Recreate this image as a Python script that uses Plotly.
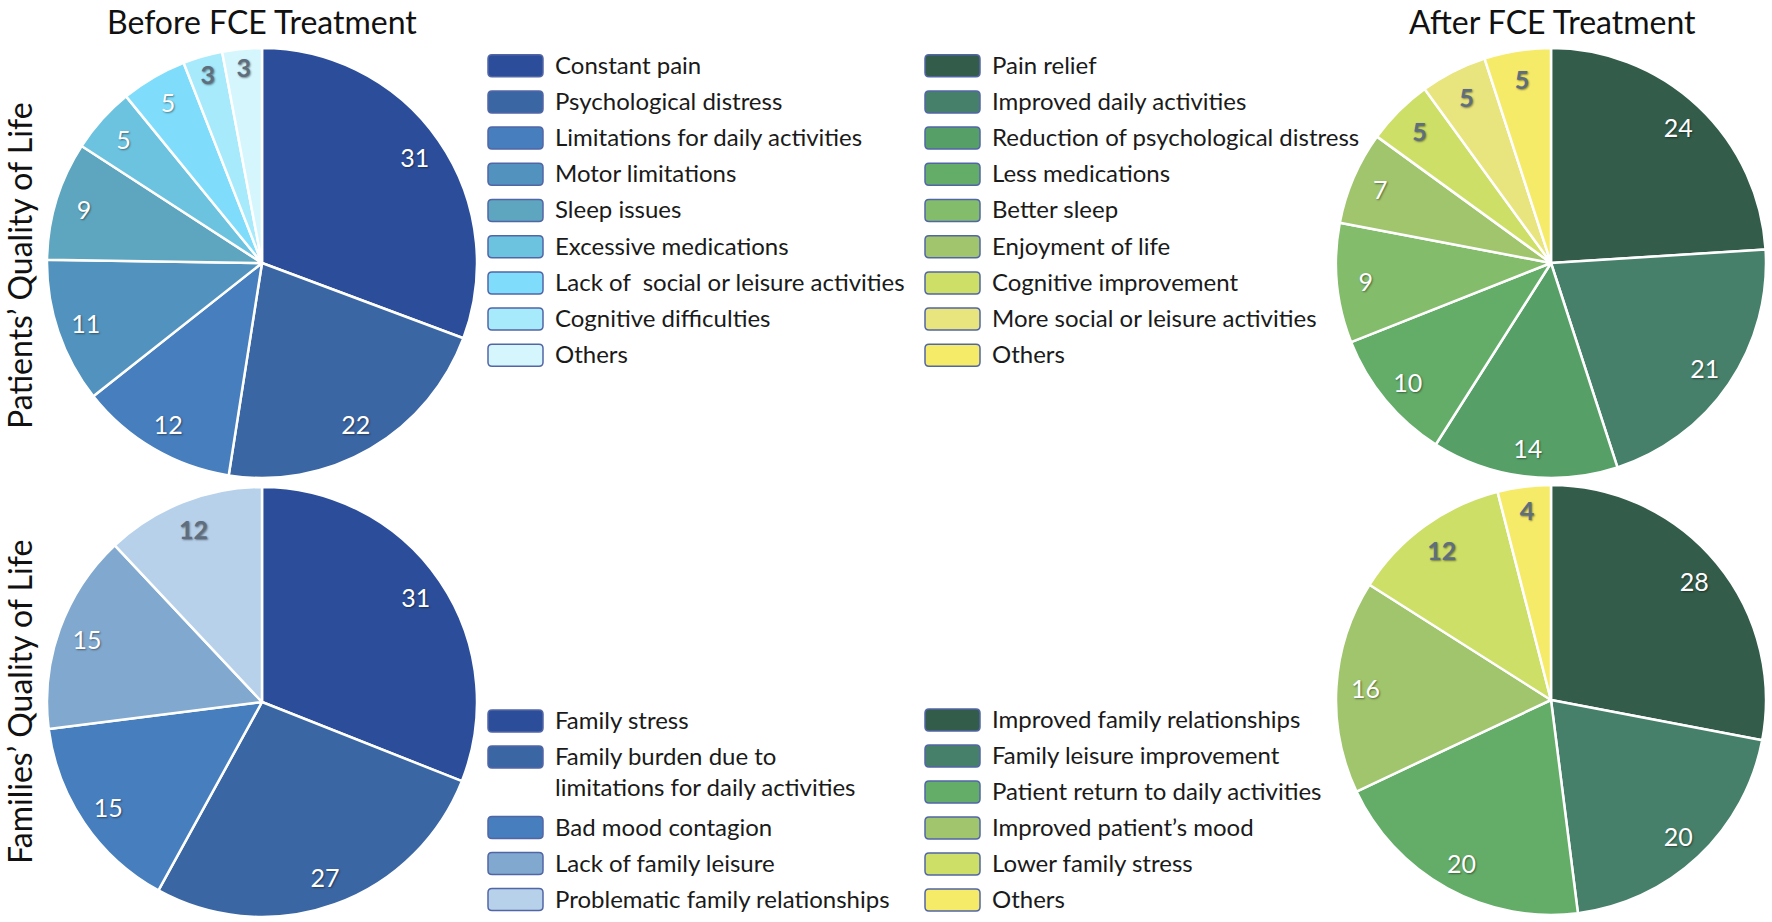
import plotly.graph_objects as go

W, H = 1772, 922
FONT = "Lato"

# ---------------- data ----------------
pat_before_labels = ["Constant pain", "Psychological distress", "Limitations for daily activities",
                     "Motor limitations", "Sleep issues", "Excessive medications",
                     "Lack of  social or leisure activities", "Cognitive difficulties", "Others"]
pat_before_values = [31, 22, 12, 11, 9, 5, 5, 3, 3]
pat_before_colors = ["#2C4E9A", "#3B66A4", "#467EBE", "#5193BE", "#5EA6BF", "#6CC3E0",
                     "#7FDDFB", "#A6EAFB", "#D5F6FD"]

pat_after_labels = ["Pain relief", "Improved daily activities", "Reduction of psychological distress",
                    "Less medications", "Better sleep", "Enjoyment of life",
                    "Cognitive improvement", "More social or leisure activities", "Others"]
pat_after_values = [24, 21, 14, 10, 9, 7, 5, 5, 5]
pat_after_colors = ["#335C4A", "#46806A", "#56A068", "#64AD69", "#83BC6B", "#A0C56D",
                    "#CEDF68", "#E8E47E", "#F6EB69"]

fam_before_labels = ["Family stress", "Family burden due to<br>limitations for daily activities",
                     "Bad mood contagion", "Lack of family leisure", "Problematic family relationships"]
fam_before_values = [31, 27, 15, 15, 12]
fam_before_colors = ["#2C4E9A", "#3B66A4", "#467EBE", "#81A8CE", "#B7D1EB"]

fam_after_labels = ["Improved family relationships", "Family leisure improvement",
                    "Patient return to daily activities", "Improved patient’s mood",
                    "Lower family stress", "Others"]
fam_after_values = [28, 20, 20, 16, 12, 4]
fam_after_colors = ["#335C4A", "#46806A", "#64AD69", "#A0C56D", "#CEDF68", "#F6EB69"]

# number of light slices (at the end) whose value label is grey
pat_before_light = 2
pat_after_light = 3
fam_before_light = 1
fam_after_light = 2

WHITE = "#FFFFFF"
GREY = "#5E6E7E"

# ---------------- layout helpers (pixels -> paper) ----------------
def px(x):
    return x / W

def py(y):
    return 1 - y / H

R = 215
pies = [
    (pat_before_labels, pat_before_values, pat_before_colors, pat_before_light, 262, 263),
    (pat_after_labels, pat_after_values, pat_after_colors, pat_after_light, 1551, 263),
    (fam_before_labels, fam_before_values, fam_before_colors, fam_before_light, 262, 702),
    (fam_after_labels, fam_after_values, fam_after_colors, fam_after_light, 1551, 700),
]

fig = go.Figure()
for labels, values, colors, nlight, cx, cy in pies:
    dom = dict(x=[px(cx - R), px(cx + R)], y=[py(cy + R), py(cy - R)])
    n = len(values)
    tcolors = [WHITE] * (n - nlight) + [GREY] * nlight
    tweights = ["normal"] * (n - nlight) + ["bold"] * nlight
    fig.add_trace(go.Pie(
        labels=labels, values=values, domain=dom, sort=False, direction="clockwise",
        rotation=0, marker=dict(colors=colors, line=dict(color="white", width=2.5)),
        textinfo="none", showlegend=False, hoverinfo="label+value",
    ))
    # transparent ring on top that carries the value labels near the rim
    fig.add_trace(go.Pie(
        labels=labels, values=values, domain=dom, sort=False, direction="clockwise",
        rotation=0, hole=0.73,
        marker=dict(colors=["rgba(0,0,0,0)"] * n, line=dict(width=0)),
        textinfo="value", textposition="inside", insidetextorientation="horizontal",
        textfont=dict(family=FONT, size=25, color=tcolors, weight=tweights,
                      shadow="1px 1px 2px rgba(0,0,0,0.45)"),
        showlegend=False, hoverinfo="skip",
    ))

# ---------------- custom legends ----------------
shapes = []
annotations = []

def rounded(x0, y0, x1, y1, r=4):
    def P(x, y):
        return f"{px(x):.6f},{py(y):.6f}"
    return (f"M{P(x0 + r, y0)} L{P(x1 - r, y0)} Q{P(x1, y0)} {P(x1, y0 + r)} "
            f"L{P(x1, y1 - r)} Q{P(x1, y1)} {P(x1 - r, y1)} L{P(x0 + r, y1)} "
            f"Q{P(x0, y1)} {P(x0, y1 - r)} L{P(x0, y0 + r)} Q{P(x0, y0)} {P(x0 + r, y0)} Z")

LINE_GAP = 31      # distance between wrapped lines of one entry
def legend(labels, colors, sx, y0, step=36.2):
    y = y0
    for lab, col in zip(labels, colors):
        shapes.append(dict(type="path", xref="paper", yref="paper",
                           path=rounded(sx, y - 11, sx + 55, y + 11),
                           fillcolor=col, line=dict(color="#5266A6", width=1.5)))
        extra = lab.count("<br>")
        annotations.append(dict(
            text=lab, xref="paper", yref="paper", x=px(sx + 65),
            y=py(y - 1.5 + extra * LINE_GAP / 2), xanchor="left", yanchor="middle",
            showarrow=False, align="left",
            font=dict(family=FONT, size=24, color="#1A1A1A"),
        ))
        y += step + extra * 34.5

legend(pat_before_labels, pat_before_colors, 488, 65.7)
legend(pat_after_labels, pat_after_colors, 925, 65.7)
legend(fam_before_labels, fam_before_colors, 488, 721, step=36)
legend(fam_after_labels, fam_after_colors, 925, 720, step=36)

# ---------------- titles ----------------
col_titles = [("Before FCE Treatment", 262), ("After FCE Treatment", 1552)]
for t, x in col_titles:
    annotations.append(dict(text=t, xref="paper", yref="paper", x=px(x), y=1,
                            xanchor="center", yanchor="top", showarrow=False,
                            font=dict(family=FONT, size=32, color="#111111")))
row_titles = [("Patients’ Quality of Life", 266), ("Families’ Quality of Life", 702)]
for t, y in row_titles:
    annotations.append(dict(text=t, xref="paper", yref="paper", x=px(19), y=py(y),
                            xanchor="center", yanchor="middle", showarrow=False,
                            textangle=-90, font=dict(family=FONT, size=32, color="#111111")))

fig.update_layout(
    width=W, height=H, margin=dict(l=0, r=0, t=0, b=0),
    paper_bgcolor="white", plot_bgcolor="white",
    shapes=shapes, annotations=annotations, showlegend=False,
)

fig.write_html("out.html", config={"displayModeBar": False},
               post_script="document.body.style.margin='0';document.body.style.overflow='hidden';")
